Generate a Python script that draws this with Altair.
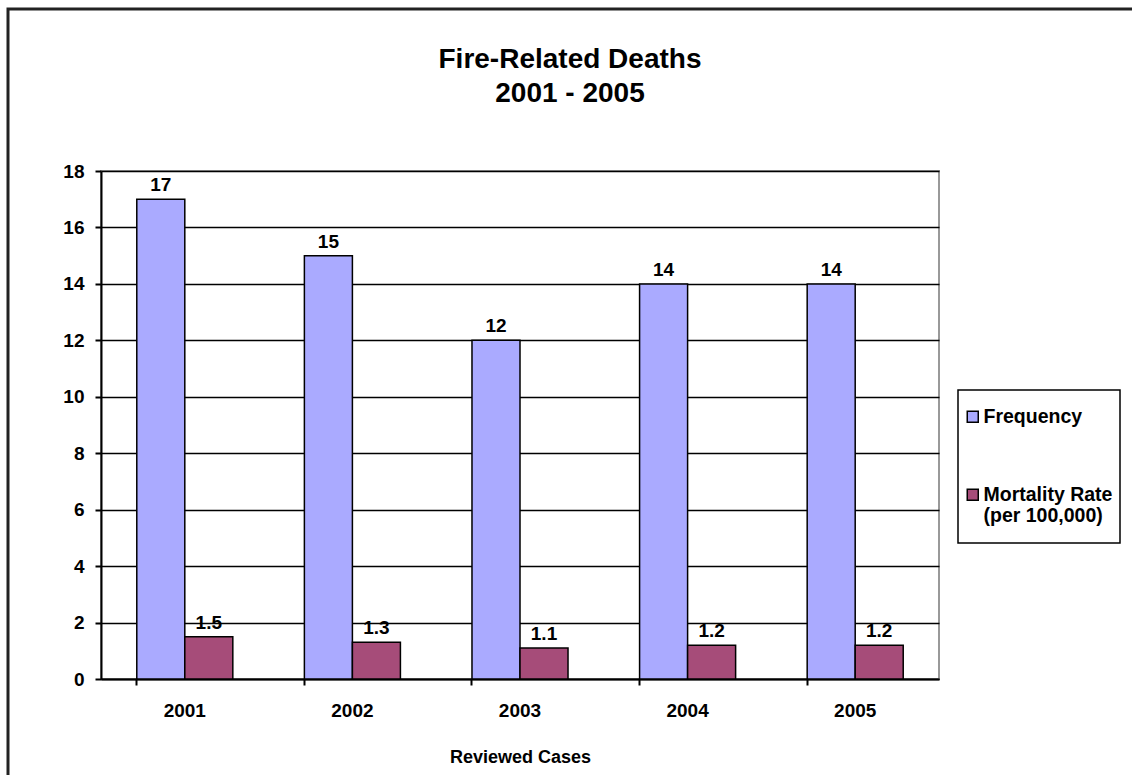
import altair as alt
import pandas as pd

years = ["2001", "2002", "2003", "2004", "2005"]
frequency = [17, 15, 12, 14, 14]
mortality = [1.5, 1.3, 1.1, 1.2, 1.2]
series = ["Frequency", "Mortality Rate (per 100,000)"]
colors = ["#AAAAFF", "#A64C79"]
title_lines = ["Fire-Related Deaths", "2001 - 2005"]

rows = []
for y, f, m in zip(years, frequency, mortality):
    rows.append({"year": y, "series": series[0], "value": f, "label": f"{f:g}"})
    rows.append({"year": y, "series": series[1], "value": m, "label": f"{m:g}"})
df = pd.DataFrame(rows)

W, H = 838, 508
FONT = "Liberation Sans"

x = alt.X(
    "year:N",
    title="Reviewed Cases",
    scale=alt.Scale(paddingInner=0.427, paddingOuter=0.2135),
    axis=alt.Axis(
        labelAngle=0, labelFontSize=19, labelFontWeight="bold", labelPadding=16,
        titleFontSize=18, titleFontWeight="bold", titlePadding=28,
        domainColor="black", domainWidth=2, tickColor="black", tickWidth=2,
        tickSize=6, bandPosition=0, labelColor="black", titleColor="black",
    ),
)
y = alt.Y(
    "value:Q",
    title=None,
    scale=alt.Scale(domain=[0, 18], nice=False),
    axis=alt.Axis(
        values=list(range(0, 19, 2)), labelFontSize=19, labelFontWeight="bold",
        labelColor="black", labelPadding=11, tickSize=6, tickColor="black",
        tickWidth=2, domainColor="black", domainWidth=2, gridColor="black",
        gridWidth=1.5,
    ),
)
xo = alt.XOffset("series:N", sort=series, scale=alt.Scale(paddingInner=0, paddingOuter=0))

color = alt.Color(
    "series:N",
    sort=series,
    scale=alt.Scale(domain=series, range=colors),
    legend=alt.Legend(
        title=None, orient="none", legendX=862, legendY=236,
        symbolType="square", symbolSize=121, symbolStrokeColor="black",
        symbolStrokeWidth=1.5, symbolOffset=0, labelOffset=1,
        labelFontSize=19.5, labelFontWeight="bold",
        labelColor="black", labelLimit=300, rowPadding=57, padding=0,
        labelExpr="datum.label == 'Frequency' ? 'Frequency' : ['Mortality Rate', '(per 100,000)']",
    ),
)

bars = alt.Chart(df).mark_bar(stroke="black", strokeWidth=1.5).encode(
    x=x, y=y, xOffset=xo, color=color
)

labels = alt.Chart(df).mark_text(
    baseline="alphabetic", dy=-8, fontSize=19, fontWeight="bold", color="black"
).encode(x=x, y=y, xOffset=xo, text="label:N")

one = pd.DataFrame({"k": [0]})

# outer frame around the whole figure
frame = alt.Chart(one).mark_rect(
    fill=None, stroke="#222", strokeWidth=3
).encode(
    x=alt.value(-93), x2=alt.value(W + 250), y=alt.value(-162), y2=alt.value(H + 200)
)

# box around the legend
legend_box = alt.Chart(one).mark_rect(
    fill="white", stroke="black", strokeWidth=1.5
).encode(
    x=alt.value(857), x2=alt.value(1019), y=alt.value(219), y2=alt.value(372)
)

# two-line chart heading
title_layers = [
    alt.Chart(one).mark_text(
        text=line, fontSize=28, fontWeight="bold", color="black",
        align="center", baseline="alphabetic",
    ).encode(x=alt.value(469), y=alt.value(ypos))
    for line, ypos in zip(title_lines, [-103, -69])
]

chart = alt.layer(legend_box, bars, labels, frame, *title_layers).properties(
    width=W,
    height=H,
    autosize="none",
    padding={"left": 101, "top": 171, "right": 193, "bottom": 96},
).configure(font=FONT, background="white").configure_view(
    stroke="#999999", strokeWidth=2
)

chart.save("out.html", embed_options={"renderer": "svg", "actions": False})
